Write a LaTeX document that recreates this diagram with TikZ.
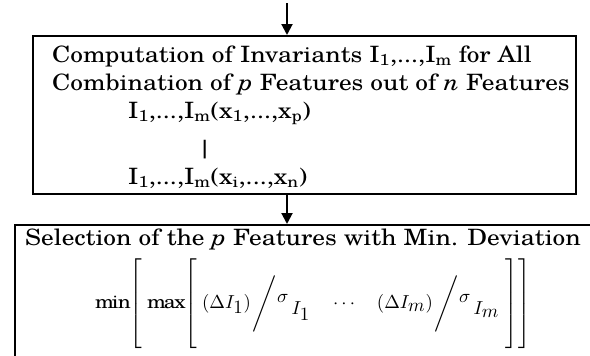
\documentclass[tikz,border=0pt]{standalone}
\usepackage{fontspec}
\setmainfont[FakeStretch=1.125]{TeX Gyre Schola}
\usetikzlibrary{arrows.meta}
\tikzset{
  box/.style={draw, line width=2.2pt, rectangle, inner sep=0pt, anchor=north west},
  arr/.style={line width=2pt, -{Triangle[width=11pt,length=11pt]}},
  txt/.style={anchor=base west, inner sep=0pt, font=\fontsize{22.5}{26}\selectfont},
  mathrow/.style={anchor=west, inner sep=0pt}
}
\newcommand{\devterm}[1]{(\Delta I_{\textstyle #1})\mkern1mu\Bigg/\mkern1mu\raisebox{3pt}{$\sigma$}_{\textstyle\,I_{\textstyle #1}}}
\begin{document}
\begin{tikzpicture}[x=1pt,y=-1pt]
\useasboundingbox (0,0) rectangle (590,356);
\clip (0,0) rectangle (590,356);
\node[box, minimum width=543pt, minimum height=158pt] (box1) at (32,35) {};
\node[box, minimum width=578pt, minimum height=200pt] (box2) at (14,224) {};
\coordinate (start) at (287,3);
\draw[arr] (start) -- (start |- box1.north);
\draw[arr] (start |- box1.south) -- (start |- box2.north);
\node[txt] (l1) at (52,62) {Computation of Invariants I\textsubscript{1},...,I\textsubscript{m} for All};
\node[txt] (l2) at (52,90) {Combination of \textit{p} Features out of \textit{n} Features};
\node[txt] (l3) at (128,118) {I\textsubscript{1},...,I\textsubscript{m}(x\textsubscript{1},...,x\textsubscript{p})};
\node[txt] (l4) at (197,156) {|};
\node[txt] (l5) at (128,184) {I\textsubscript{1},...,I\textsubscript{m}(x\textsubscript{i},...,x\textsubscript{n})};
\node[txt] (s1) at (25,245) {Selection of the \textit{p} Features with Min. Deviation};
\node[mathrow] (m1) at (95,303.5) {\scalebox{1.88}{$\displaystyle \mathrm{min}\!\left[\;\mathrm{max}\!\left[\;\devterm{1}\quad\cdots\quad\devterm{m}\;\vphantom{\rule{0pt}{21pt}\rule[-21pt]{0pt}{1pt}}\right]\right]$}};
\end{tikzpicture}
\end{document}
